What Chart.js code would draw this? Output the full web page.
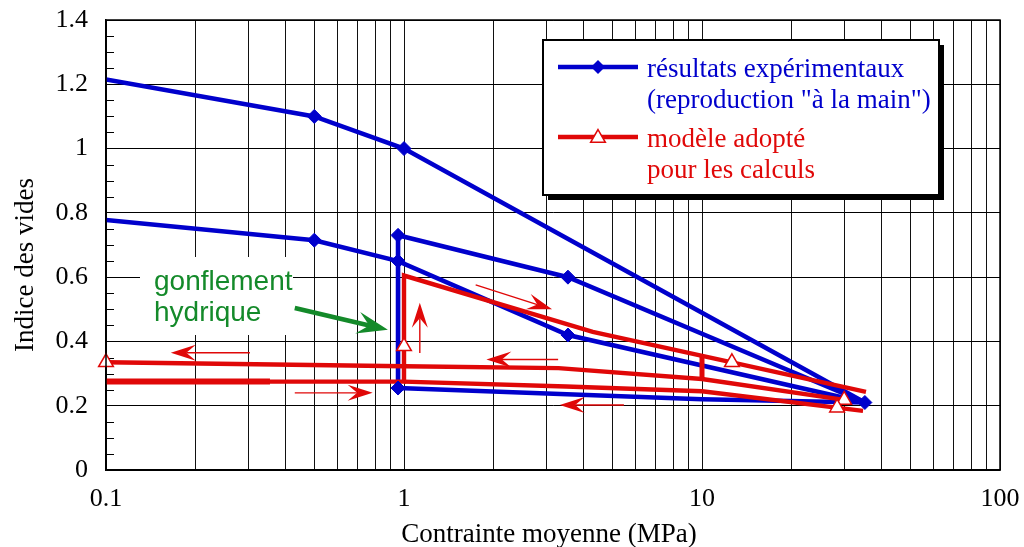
<!DOCTYPE html>
<html>
<head>
<meta charset="utf-8">
<script src="https://cdn.jsdelivr.net/npm/chart.js@4.4.1/dist/chart.umd.min.js"></script>
<style>
  html, body { margin: 0; padding: 0; background: #fff; }
  #cadre { width: 1024px; height: 547px; }
</style>
</head>
<body>
<div id="cadre"><canvas id="compressibilite"></canvas></div>
<script>
// axes
const X_TICKS = [0.1, 0.2, 0.3, 0.4, 0.5, 0.6, 0.7, 0.8, 0.9,
                 1, 2, 3, 4, 5, 6, 7, 8, 9,
                 10, 20, 30, 40, 50, 60, 70, 80, 90, 100];
const X_LABELS = [0.1, 1, 10, 100];
const Y_TICKS = [0, 0.2, 0.4, 0.6, 0.8, 1, 1.2, 1.4];
const Y_LABELS = ['0', '0.2', '0.4', '0.6', '0.8', '1', '1.2', '1.4'];
const Y_MINEURS = [0.05, 0.1, 0.15, 0.25, 0.3, 0.35, 0.45, 0.5, 0.55, 0.65, 0.7, 0.75,
                   0.85, 0.9, 0.95, 1.05, 1.1, 1.15, 1.25, 1.3, 1.35];

// résultats expérimentaux (contrainte en MPa, indice des vides)
const ESSAI_CHARGE_X = [0.1, 0.5, 1.0, 35.2];
const ESSAI_CHARGE_Y = [1.215, 1.10, 1.00, 0.21];
const ESSAI_DECHARGE_X = [0.1, 0.5, 0.955, 3.55, 35.2];
const ESSAI_DECHARGE_Y = [0.778, 0.715, 0.65, 0.42, 0.21];
const ESSAI_RECHARGE_X = [0.955, 3.55, 35.2];
const ESSAI_RECHARGE_Y = [0.73, 0.60, 0.21];
const ESSAI_GONFLEMENT_X = [0.955, 0.955, 0.955];
const ESSAI_GONFLEMENT_Y = [0.255, 0.65, 0.73];
const ESSAI_BAS_X = [0.955, 10, 35.2];
const ESSAI_BAS_Y = [0.255, 0.22, 0.21];
const ESSAI_POINTS_X = [0.5, 1.0, 0.5, 0.955, 0.955, 0.955, 3.55, 3.55, 35.2];
const ESSAI_POINTS_Y = [1.10, 1.00, 0.715, 0.65, 0.73, 0.255, 0.42, 0.60, 0.21];

// modèle adopté
const MODELE_CHARGE_X = [0.1, 1.0, 1.0, 4.3, 12.6, 35.5];
const MODELE_CHARGE_Y = [0.275, 0.275, 0.605, 0.43, 0.335, 0.243];
const MODELE_DEPART_X = [0.1, 0.355];
const MODELE_DEPART_Y = [0.275, 0.275];
const MODELE_DECHARGE_X = [1.0, 3.5, 10, 34.7];
const MODELE_DECHARGE_Y = [0.275, 0.26, 0.245, 0.184];
const MODELE_RETOUR_X = [0.1, 1.0, 3.3, 10, 30];
const MODELE_RETOUR_Y = [0.335, 0.323, 0.317, 0.283, 0.218];
const MODELE_SAUT_X = [10, 10];
const MODELE_SAUT_Y = [0.356, 0.283];
const MODELE_POINTS_X = [0.1, 1.0, 12.6, 30, 28.4];
const MODELE_POINTS_Y = [0.335, 0.385, 0.335, 0.218, 0.194];

// flèches de parcours [x0, y0, x1, y1]
const FLECHES = [
  [0.304, 0.365, 0.165, 0.365],
  [0.43, 0.24, 0.785, 0.24],
  [1.13, 0.364, 1.13, 0.52],
  [1.74, 0.576, 3.14, 0.50],
  [3.29, 0.344, 1.89, 0.344],
  [5.47, 0.202, 3.33, 0.202],
];
const FLECHE_GONFLEMENT = [0.43, 0.504, 0.883, 0.436];

const BLEU = '#0000cc';
const ROUGE = '#e00808';
const VERT = '#148a2a';
const SERIF = '"Liberation Serif", "Times New Roman", serif';
const SANS = '"Liberation Sans", Arial, sans-serif';

function points(xs, ys) {
  return xs.map((x, i) => ({ x, y: ys[i] }));
}

function courbe(xs, ys, couleur, epaisseur) {
  return {
    data: points(xs, ys),
    borderColor: couleur,
    borderWidth: epaisseur,
    pointRadius: 0,
    showLine: true,
    fill: false,
    tension: 0,
  };
}

function fleche(ctx, x0, y0, x1, y1, long, demi, epaisseur, couleur) {
  const ang = Math.atan2(y1 - y0, x1 - x0);
  const creux = long * 0.62;
  ctx.save();
  ctx.strokeStyle = couleur;
  ctx.fillStyle = couleur;
  ctx.lineWidth = epaisseur;
  ctx.beginPath();
  ctx.moveTo(x0, y0);
  ctx.lineTo(x1 - Math.cos(ang) * creux, y1 - Math.sin(ang) * creux);
  ctx.stroke();
  ctx.translate(x1, y1);
  ctx.rotate(ang);
  ctx.beginPath();
  ctx.moveTo(0, 0);
  ctx.lineTo(-long, -demi);
  ctx.lineTo(-creux, 0);
  ctx.lineTo(-long, demi);
  ctx.closePath();
  ctx.fill();
  ctx.restore();
}

function losange(ctx, x, y, r, couleur) {
  ctx.save();
  ctx.fillStyle = couleur;
  ctx.beginPath();
  ctx.moveTo(x, y - r);
  ctx.lineTo(x + r, y);
  ctx.lineTo(x, y + r);
  ctx.lineTo(x - r, y);
  ctx.closePath();
  ctx.fill();
  ctx.restore();
}

function triangle(ctx, x, y, r, couleur) {
  ctx.save();
  ctx.fillStyle = '#fff';
  ctx.strokeStyle = couleur;
  ctx.lineWidth = 1.5;
  ctx.beginPath();
  ctx.moveTo(x, y - r);
  ctx.lineTo(x + r * 0.866, y + r / 2);
  ctx.lineTo(x - r * 0.866, y + r / 2);
  ctx.closePath();
  ctx.fill();
  ctx.stroke();
  ctx.restore();
}

const decor = {
  id: 'decor',
  beforeDatasetsDraw(chart) {
    const { ctx, chartArea: a, scales: { y } } = chart;
    // petites graduations de l'axe vertical
    ctx.save();
    ctx.strokeStyle = '#000';
    ctx.lineWidth = 1;
    Y_MINEURS.forEach(v => {
      const py = Math.round(y.getPixelForValue(v)) + 0.5;
      ctx.beginPath();
      ctx.moveTo(a.left, py);
      ctx.lineTo(a.left + 8, py);
      ctx.stroke();
    });
    // fond blanc sous le texte vert
    ctx.fillStyle = '#fff';
    ctx.fillRect(140, 257, 153, 78);
    ctx.restore();
  },
  afterDatasetsDraw(chart) {
    const { ctx, chartArea: a, scales: { x, y } } = chart;

    FLECHES.forEach(([x0, y0, x1, y1]) => {
      fleche(ctx, x.getPixelForValue(x0), y.getPixelForValue(y0),
        x.getPixelForValue(x1), y.getPixelForValue(y1), 25, 8, 1.4, ROUGE);
    });

    const [gx0, gy0, gx1, gy1] = FLECHE_GONFLEMENT;
    fleche(ctx, x.getPixelForValue(gx0), y.getPixelForValue(gy0),
      x.getPixelForValue(gx1), y.getPixelForValue(gy1), 31, 11, 4.5, VERT);

    ctx.save();
    ctx.fillStyle = VERT;
    ctx.font = '28px ' + SANS;
    ctx.textBaseline = 'alphabetic';
    ctx.fillText('gonflement', 154, 290);
    ctx.fillText('hydrique', 154, 321);
    ctx.restore();

    // cadre du graphique
    ctx.save();
    ctx.strokeStyle = '#000';
    ctx.lineWidth = 1.5;
    ctx.strokeRect(a.left, a.top, a.right - a.left, a.bottom - a.top);
    ctx.restore();

    // légende
    ctx.save();
    ctx.fillStyle = '#000';
    ctx.fillRect(548, 45, 396, 155);
    ctx.fillStyle = '#fff';
    ctx.fillRect(543, 40, 396, 155);
    ctx.strokeStyle = '#000';
    ctx.lineWidth = 2;
    ctx.strokeRect(543, 40, 396, 155);

    ctx.lineWidth = 4.6;
    ctx.strokeStyle = BLEU;
    ctx.beginPath(); ctx.moveTo(558, 67); ctx.lineTo(638, 67); ctx.stroke();
    losange(ctx, 598, 67, 7, BLEU);
    ctx.strokeStyle = ROUGE;
    ctx.beginPath(); ctx.moveTo(558, 137); ctx.lineTo(638, 137); ctx.stroke();
    triangle(ctx, 598, 138, 8.5, ROUGE);

    ctx.font = '27px ' + SERIF;
    ctx.fillStyle = BLEU;
    ctx.fillText('résultats expérimentaux', 647, 77);
    ctx.fillText('(reproduction "à la main")', 647, 108);
    ctx.fillStyle = ROUGE;
    ctx.fillText('modèle adopté', 647, 147);
    ctx.fillText('pour les calculs', 647, 178);
    ctx.restore();
  },
  afterDraw(chart) {
    const { ctx } = chart;
    ctx.save();
    ctx.fillStyle = '#000';
    ctx.font = '27px ' + SERIF;
    ctx.textAlign = 'center';
    ctx.textBaseline = 'alphabetic';
    ctx.fillText('Contrainte moyenne (MPa)', 549, 542);
    ctx.translate(33, 265);
    ctx.rotate(-Math.PI / 2);
    ctx.fillText('Indice des vides', 0, 0);
    ctx.restore();
  }
};

new Chart(document.getElementById('compressibilite'), {
  type: 'line',
  data: {
    datasets: [
      {
        data: points(MODELE_POINTS_X, MODELE_POINTS_Y),
        showLine: false,
        clip: false,
        pointStyle: 'triangle',
        pointRadius: 8.5,
        pointBackgroundColor: '#fff',
        pointBorderColor: ROUGE,
        pointBorderWidth: 1.5,
        order: 0,
      },
      {
        data: points(ESSAI_POINTS_X, ESSAI_POINTS_Y),
        showLine: false,
        clip: false,
        pointStyle: 'rectRot',
        pointRadius: 7,
        pointBackgroundColor: BLEU,
        pointBorderColor: BLEU,
        pointBorderWidth: 1,
        order: 1,
      },
      { ...courbe(MODELE_CHARGE_X, MODELE_CHARGE_Y, ROUGE, 4.4), order: 2 },
      { ...courbe(MODELE_DEPART_X, MODELE_DEPART_Y, ROUGE, 6), order: 2 },
      { ...courbe(MODELE_DECHARGE_X, MODELE_DECHARGE_Y, ROUGE, 4.4), order: 2 },
      { ...courbe(MODELE_RETOUR_X, MODELE_RETOUR_Y, ROUGE, 4.4), order: 2 },
      { ...courbe(MODELE_SAUT_X, MODELE_SAUT_Y, ROUGE, 5), order: 2 },
      { ...courbe(ESSAI_CHARGE_X, ESSAI_CHARGE_Y, BLEU, 4.6), order: 3 },
      { ...courbe(ESSAI_DECHARGE_X, ESSAI_DECHARGE_Y, BLEU, 4.6), order: 3 },
      { ...courbe(ESSAI_RECHARGE_X, ESSAI_RECHARGE_Y, BLEU, 4.6), order: 3 },
      { ...courbe(ESSAI_GONFLEMENT_X, ESSAI_GONFLEMENT_Y, BLEU, 4.6), order: 3 },
      { ...courbe(ESSAI_BAS_X, ESSAI_BAS_Y, BLEU, 4.6), order: 3 },
    ]
  },
  options: {
    responsive: true,
    maintainAspectRatio: false,
    animation: false,
    layout: { padding: { top: 20, right: 24, left: 0, bottom: 0 } },
    plugins: { legend: { display: false }, tooltip: { enabled: false } },
    scales: {
      x: {
        type: 'logarithmic',
        min: 0.1,
        max: 100,
        afterBuildTicks: s => { s.ticks = X_TICKS.map(v => ({ value: v })); },
        afterFit: s => { s.height = 77; s.paddingLeft = 0; s.paddingRight = 0; },
        ticks: {
          autoSkip: false,
          maxRotation: 0,
          padding: 14,
          color: '#000',
          font: { family: SERIF, size: 26 },
          callback: v => X_LABELS.includes(v) ? String(v) : '',
        },
        grid: { color: '#111', lineWidth: 1, drawTicks: false },
        border: { color: '#000', width: 1.5 },
      },
      y: {
        min: 0,
        max: 1.4,
        afterBuildTicks: s => { s.ticks = Y_TICKS.map(v => ({ value: v })); },
        afterFit: s => { s.width = 106; s.paddingTop = 0; s.paddingBottom = 0; },
        ticks: {
          padding: 18,
          color: '#000',
          font: { family: SERIF, size: 26 },
          callback: (v, i) => Y_LABELS[i],
        },
        grid: { color: '#000', lineWidth: 1, drawTicks: false },
        border: { color: '#000', width: 1.5 },
      }
    }
  },
  plugins: [decor]
});
</script>
</body>
</html>
